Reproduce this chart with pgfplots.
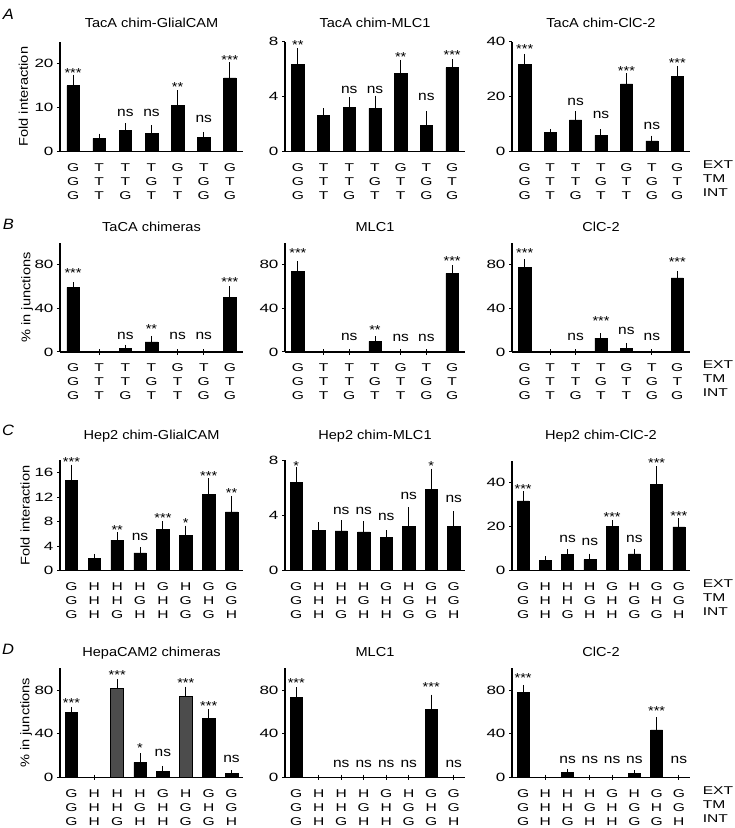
\documentclass[border=0pt]{standalone}
\usepackage{graphicx}
\usepackage{pgfplots}
\pgfplotsset{compat=1.18}
\usepackage{fontspec}
\setmainfont{Liberation Sans}
\newcommand\sx[2]{\scalebox{#1}[1]{#2}}
\newcommand\catl[3]{\sx{1.38}{#1}\\\sx{1.38}{#2}\\\sx{1.38}{#3}}
\pgfplotsset{
  base/.style={
    scale only axis,
    axis x line*=bottom, axis y line*=left,
    axis line style={line width=1.3pt, black},
    ymin=0, clip=false,
    tick style={black, line width=1pt},
    major tick length=3pt,
    tick align=outside,
    xtick style={draw=none},
    /pgf/number format/assume math mode=true,
    yticklabel={\sx{1.42}{\pgfmathprintnumber{\tick}}},
    yticklabel style={font=\fontsize{12}{14}\selectfont},
    xticklabel style={font=\fontsize{11.3}{14}\selectfont, align=center, yshift=-5.5pt},
    title style={font=\fontsize{13}{15}\selectfont, at={(0.5,1)}, anchor=base},
  },
  seven/.style={base, xmin=-0.5, xmax=6.5, xtick={0,...,6}, height=#1,
    xticklabels={{\catl GGG},{\catl TTT},{\catl TTG},{\catl TGT},{\catl GTT},{\catl TGG},{\catl GTG}}},
  eight/.style={base, xmin=-0.5, xmax=7.5, xtick={0,...,7}, height=#1,
    xticklabels={{\catl GGG},{\catl HHH},{\catl HHG},{\catl HGH},{\catl GHH},{\catl HGG},{\catl GHG},{\catl GGH}}},
  ylab/.style={every axis y label/.style={at={(axis description cs:#1,0.5)}, rotate=90, anchor=center,
    font=\fontsize{12.6}{14}\selectfont}},
  bars/.style={ybar, bar width=#1, bar shift=0pt, fill=black, draw=black, line width=0.5pt,
    error bars/.cd, y dir=plus, y explicit,
    error bar style={line width=1pt, black},
    error mark options={line width=1pt, mark size=2.7pt, black},
    /pgfplots/.cd},
}
\newcommand\st[1]{\sx{1.12}{#1}}
\newcommand\nsl{\sx{1.15}{ns}}
\tikzset{
  st/.style={font=\fontsize{13}{13}\selectfont, yshift=-2.5pt, inner sep=0pt},
  ns/.style={font=\fontsize{13.5}{13.5}\selectfont, inner sep=0pt},
  rowlab/.style={anchor=north west, align=left, font=\fontsize{11.3}{14}\selectfont, xshift=9.3pt, yshift=-5.5pt},
  plab/.style={font=\fontsize{15}{15}\selectfont\itshape, anchor=center},
}
\begin{document}
\begin{tikzpicture}
\useasboundingbox (0,0) rectangle (735pt,828pt);
\node[plab] at (8.5pt,814pt) {\sx{1.1}{A}};
\node[plab] at (8.5pt,604pt) {\sx{1.1}{B}};
\node[plab] at (8pt,398pt) {\sx{1.1}{C}};
\node[plab] at (8pt,178.5pt) {\sx{1.1}{D}};

% ---------------- Row A ----------------
\begin{axis}[seven=110pt, width=183pt, at={(60pt,676.3pt)}, anchor=south west,
  ymax=25, ytick={0,10,20}, ylabel={\sx{1.16}{Fold interaction}}, ylab=-0.2,
  title={\sx{1.12}{TacA chim-GlialCAM}}, title style={yshift=7.8pt}]
\addplot[bars=0.48] table[x=x,y=y,y error=e] {
x y e
0 15.0 1.9
1 3.0 0.5
2 4.9 1.0
3 4.2 1.2
4 10.6 2.7
5 3.2 0.7
6 16.8 2.9
};
\node[st] at (axis cs:0,18.5) {\st{***}};
\node[ns] at (axis cs:2,8.7) {\nsl};
\node[ns] at (axis cs:3,8.7) {\nsl};
\node[st] at (axis cs:4,15.2) {\st{**}};
\node[ns] at (axis cs:5,7.4) {\nsl};
\node[st] at (axis cs:6,21.5) {\st{***}};
\end{axis}

\begin{axis}[seven=110pt, width=180pt, at={(285pt,676.3pt)}, anchor=south west,
  ymax=8, ytick={0,4,8},
  title={\sx{1.12}{TacA chim-MLC1}}, title style={yshift=7.8pt}]
\addplot[bars=0.48] table[x=x,y=y,y error=e] {
x y e
0 6.36 0.95
1 2.62 0.36
2 3.23 0.54
3 3.15 0.74
4 5.70 0.78
5 1.91 0.85
6 6.11 0.42
};
\node[st] at (axis cs:0,7.95) {\st{**}};
\node[ns] at (axis cs:2,4.47) {\nsl};
\node[ns] at (axis cs:3,4.47) {\nsl};
\node[st] at (axis cs:4,7.09) {\st{**}};
\node[ns] at (axis cs:5,3.99) {\nsl};
\node[st] at (axis cs:6,7.21) {\st{***}};
\end{axis}

\begin{axis}[seven=110pt, width=178pt, at={(512pt,676.3pt)}, anchor=south west,
  ymax=40, ytick={0,20,40},
  title={\sx{1.12}{TacA chim-ClC-2}}, title style={yshift=7.8pt}]
\addplot[bars=0.48] table[x=x,y=y,y error=e] {
x y e
0 31.7 2.9
1 7.0 0.3
2 11.6 2.1
3 5.9 1.3
4 24.7 2.8
5 3.9 1.0
6 27.5 2.7
};
\node[st] at (axis cs:0,38.1) {\st{***}};
\node[ns] at (axis cs:2,18.1) {\nsl};
\node[ns] at (axis cs:3,13.4) {\nsl};
\node[st] at (axis cs:4,30.3) {\st{***}};
\node[ns] at (axis cs:5,9.5) {\nsl};
\node[st] at (axis cs:6,33.1) {\st{***}};
\node[rowlab] at (rel axis cs:1,0) {\sx{1.38}{EXT}\\\sx{1.38}{TM}\\\sx{1.38}{INT}};
\end{axis}

% ---------------- Row B ----------------
\begin{axis}[seven=109pt, width=183pt, at={(60pt,476pt)}, anchor=south west,
  ymax=100, ytick={0,40,80}, ylabel={\sx{1.16}{\% in junctions}}, ylab=-0.18,
  title={\sx{1.12}{TaCA chimeras}}, title style={yshift=5.4pt}]
\addplot[bars=0.48] table[x=x,y=y,y error=e] {
x y e
0 59.2 2.5
1 0 0
2 3.0 1.3
3 9.2 3.0
4 0 0
5 0 0
6 50.4 7.6
};
\node[st] at (axis cs:0,74.8) {\st{***}};
\node[ns] at (axis cs:2,15) {\nsl};
\node[st] at (axis cs:3,23.5) {\st{**}};
\node[ns] at (axis cs:4,15) {\nsl};
\node[ns] at (axis cs:5,15) {\nsl};
\node[st] at (axis cs:6,66.3) {\st{***}};
\end{axis}

\begin{axis}[seven=109pt, width=180pt, at={(285pt,476pt)}, anchor=south west,
  ymax=100, ytick={0,40,80},
  title={\sx{1.12}{MLC1}}, title style={yshift=5.4pt}]
\addplot[bars=0.48] table[x=x,y=y,y error=e] {
x y e
0 73.7 7.3
1 0 0
2 0 0
3 9.7 2.4
4 0 0
5 0 0
6 72.2 5.1
};
\node[st] at (axis cs:0,92.7) {\st{***}};
\node[ns] at (axis cs:2,13.6) {\nsl};
\node[st] at (axis cs:3,22.7) {\st{**}};
\node[ns] at (axis cs:4,12.7) {\nsl};
\node[ns] at (axis cs:5,12.7) {\nsl};
\node[st] at (axis cs:6,85.5) {\st{***}};
\end{axis}

\begin{axis}[seven=109pt, width=178pt, at={(512pt,476pt)}, anchor=south west,
  ymax=100, ytick={0,40,80},
  title={\sx{1.12}{ClC-2}}, title style={yshift=5.4pt}]
\addplot[bars=0.48] table[x=x,y=y,y error=e] {
x y e
0 77.6 4.9
1 0 0
2 0 0
3 12.7 2.1
4 3.6 1.8
5 0 0
6 68.0 3.9
};
\node[st] at (axis cs:0,92.7) {\st{***}};
\node[ns] at (axis cs:2,14.2) {\nsl};
\node[st] at (axis cs:3,31.1) {\st{***}};
\node[ns] at (axis cs:4,19.6) {\nsl};
\node[ns] at (axis cs:5,14.2) {\nsl};
\node[st] at (axis cs:6,84.6) {\st{***}};
\node[rowlab] at (rel axis cs:1,0) {\sx{1.38}{EXT}\\\sx{1.38}{TM}\\\sx{1.38}{INT}};
\end{axis}

% ---------------- Row C ----------------
\begin{axis}[eight=110pt, width=183pt, at={(60pt,257.5pt)}, anchor=south west,
  ymax=18, ytick={0,4,8,12,16}, ylabel={\sx{1.16}{Fold interaction}}, ylab=-0.19,
  title={\sx{1.12}{Hep2 chim-GlialCAM}}, title style={yshift=15.4pt}]
\addplot[bars=0.55] table[x=x,y=y,y error=e] {
x y e
0 14.80 2.07
1 2.00 0.29
2 4.95 0.87
3 2.88 0.49
4 6.69 0.93
5 5.71 1.20
6 12.46 2.23
7 9.58 2.18
};
\node[st] at (axis cs:0,18.2) {\st{***}};
\node[st] at (axis cs:2,7.07) {\st{**}};
\node[ns] at (axis cs:3,5.44) {\nsl};
\node[st] at (axis cs:4,8.98) {\st{***}};
\node[st] at (axis cs:5,8.16) {\st{*}};
\node[st] at (axis cs:6,15.9) {\st{***}};
\node[st] at (axis cs:7,13.06) {\st{**}};
\end{axis}

\begin{axis}[eight=110pt, width=180pt, at={(285pt,257.5pt)}, anchor=south west,
  ymax=8, ytick={0,4,8},
  title={\sx{1.12}{Hep2 chim-MLC1}}, title style={yshift=15.4pt}]
\addplot[bars=0.55] table[x=x,y=y,y error=e] {
x y e
0 6.39 0.93
1 2.93 0.39
2 2.88 0.58
3 2.80 0.57
4 2.39 0.34
5 3.22 1.17
6 5.90 1.32
7 3.22 0.88
};
\node[st] at (axis cs:0,7.8) {\st{*}};
\node[ns] at (axis cs:2,4.34) {\nsl};
\node[ns] at (axis cs:3,4.34) {\nsl};
\node[ns] at (axis cs:4,3.9) {\nsl};
\node[ns] at (axis cs:5,5.41) {\nsl};
\node[st] at (axis cs:6,7.8) {\st{*}};
\node[ns] at (axis cs:7,5.17) {\nsl};
\end{axis}

\begin{axis}[eight=110pt, width=178pt, at={(512pt,257.5pt)}, anchor=south west,
  ymax=50, ytick={0,20,40},
  title={\sx{1.12}{Hep2 chim-ClC-2}}, title style={yshift=15.4pt}]
\addplot[bars=0.55] table[x=x,y=y,y error=e] {
x y e
0 31.7 3.0
1 4.68 0.6
2 7.25 1.2
3 4.98 1.5
4 20.1 1.5
5 7.55 1.2
6 39.2 7.0
7 19.8 2.8
};
\node[st] at (axis cs:0,38.2) {\st{***}};
\node[ns] at (axis cs:2,14.3) {\nsl};
\node[ns] at (axis cs:3,12.8) {\nsl};
\node[st] at (axis cs:4,25.4) {\st{***}};
\node[ns] at (axis cs:5,14.3) {\nsl};
\node[st] at (axis cs:6,50.0) {\st{***}};
\node[st] at (axis cs:7,25.8) {\st{***}};
\node[rowlab] at (rel axis cs:1,0) {\sx{1.38}{EXT}\\\sx{1.38}{TM}\\\sx{1.38}{INT}};
\end{axis}

% ---------------- Row D ----------------
\begin{axis}[eight=109pt, width=183pt, at={(60pt,50.7pt)}, anchor=south west,
  ymax=100, ytick={0,40,80}, ylabel={\sx{1.16}{\% in junctions}}, ylab=-0.185,
  title={\sx{1.12}{HepaCAM2 chimeras}}, title style={yshift=5.4pt}]
\addplot[bars=0.55] table[x=x,y=y,y error=e] {
x y e
0 59.7 2.5
1 0 0
3 13.8 5.9
4 5.2 2.8
6 53.8 6.2
7 3.4 0.6
};
\addplot[bars=0.55, fill=black!70, line width=1pt] table[x=x,y=y,y error=e] {
x y e
2 81.5 5.9
5 73.8 6.8
};
\node[st] at (axis cs:0,70.5) {\st{***}};
\node[st] at (axis cs:2,96) {\st{***}};
\node[st] at (axis cs:3,28.9) {\st{*}};
\node[ns] at (axis cs:4,22.2) {\nsl};
\node[st] at (axis cs:5,89.2) {\st{***}};
\node[st] at (axis cs:6,67.4) {\st{***}};
\node[ns] at (axis cs:7,16.6) {\nsl};
\end{axis}

\begin{axis}[eight=109pt, width=180pt, at={(285pt,50.7pt)}, anchor=south west,
  ymax=100, ytick={0,40,80},
  title={\sx{1.12}{MLC1}}, title style={yshift=5.4pt}]
\addplot[bars=0.55] table[x=x,y=y,y error=e] {
x y e
0 73.3 7.0
1 0 0
2 0 0
3 0 0
4 0 0
5 0 0
6 62.4 10.9
7 0 0
};
\node[st] at (axis cs:0,89.1) {\st{***}};
\node[ns] at (axis cs:2,12.7) {\nsl};
\node[ns] at (axis cs:3,12.7) {\nsl};
\node[ns] at (axis cs:4,12.7) {\nsl};
\node[ns] at (axis cs:5,12.7) {\nsl};
\node[st] at (axis cs:6,85.5) {\st{***}};
\node[ns] at (axis cs:7,12.7) {\nsl};
\end{axis}

\begin{axis}[eight=109pt, width=178pt, at={(512pt,50.7pt)}, anchor=south west,
  ymax=100, ytick={0,40,80},
  title={\sx{1.12}{ClC-2}}, title style={yshift=5.4pt}]
\addplot[bars=0.55] table[x=x,y=y,y error=e] {
x y e
0 77.9 4.5
1 0 0
2 4.2 1.0
3 0 0
4 0 0
5 3.3 0.9
6 43.6 9.1
7 0 0
};
\node[st] at (axis cs:0,93) {\st{***}};
\node[ns] at (axis cs:2,15.8) {\nsl};
\node[ns] at (axis cs:3,15.8) {\nsl};
\node[ns] at (axis cs:4,15.8) {\nsl};
\node[ns] at (axis cs:5,15.8) {\nsl};
\node[st] at (axis cs:6,62.7) {\st{***}};
\node[ns] at (axis cs:7,15.8) {\nsl};
\node[rowlab] at (rel axis cs:1,0) {\sx{1.38}{EXT}\\\sx{1.38}{TM}\\\sx{1.38}{INT}};
\end{axis}
\end{tikzpicture}
\end{document}
